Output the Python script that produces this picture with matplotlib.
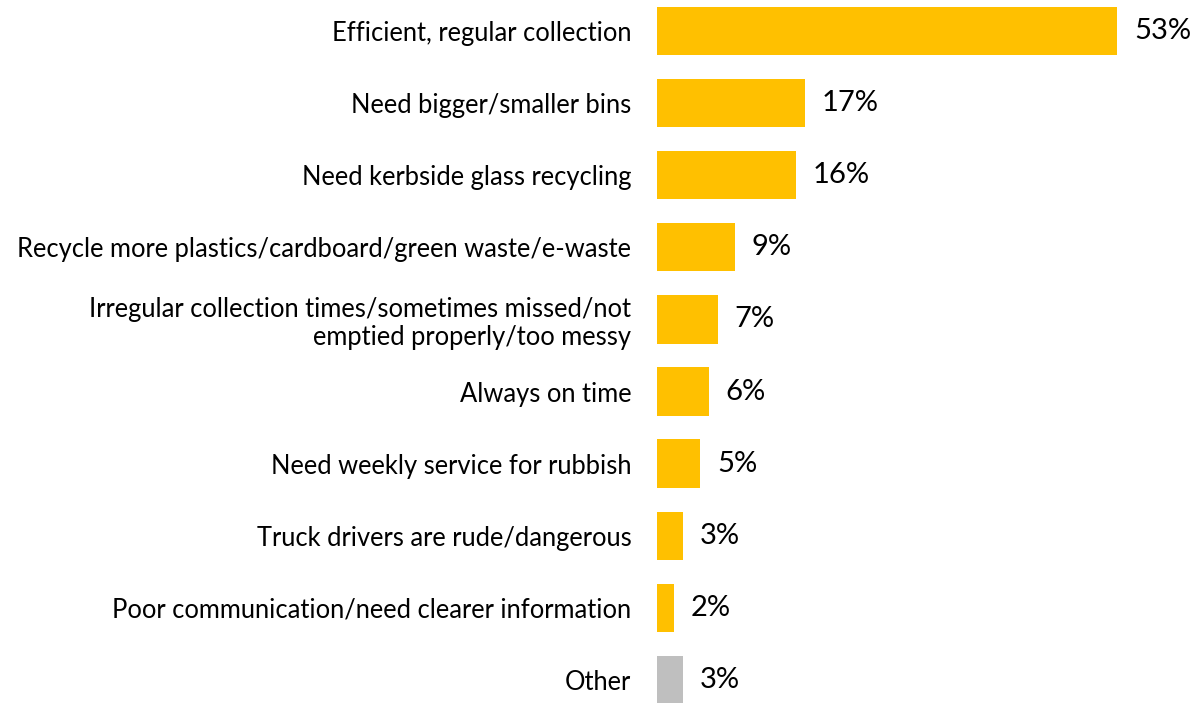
import matplotlib

matplotlib.use("Agg")
import matplotlib.pyplot as plt

plt.rcParams["font.family"] = ["Lato", "DejaVu Sans"]

categories = [
    "Efficient, regular collection",
    "Need bigger/smaller bins",
    "Need kerbside glass recycling",
    "Recycle more plastics/cardboard/green waste/e-waste",
    "Irregular collection times/sometimes missed/not\nemptied properly/too messy",
    "Always on time",
    "Need weekly service for rubbish",
    "Truck drivers are rude/dangerous",
    "Poor communication/need clearer information",
    "Other",
]
values = [53, 17, 16, 9, 7, 6, 5, 3, 2, 3]
colors = ["#FFC000"] * 9 + ["#BFBFBF"]

fig = plt.figure(figsize=(11.99, 7.03), dpi=100)
ax = fig.add_axes([657 / 1199, 0, 1 - 657 / 1199, 1])

y = list(range(len(categories)))
ax.barh(y, values, height=0.67, color=colors)
ax.set_xlim(0, 62.4)
ax.set_ylim(9.32, -0.43)

for yi, v in zip(y, values):
    ax.text(v + 1.9, yi, f"{v}%", va="center", ha="left", fontsize=21)

ax.set_yticks(y)
ax.set_yticklabels(categories, fontsize=18.4, linespacing=1.15)
ax.tick_params(axis="y", length=0, pad=18.5)
ax.set_xticks([])
for s in ax.spines.values():
    s.set_visible(False)

fig.savefig("out.png", dpi=100)
